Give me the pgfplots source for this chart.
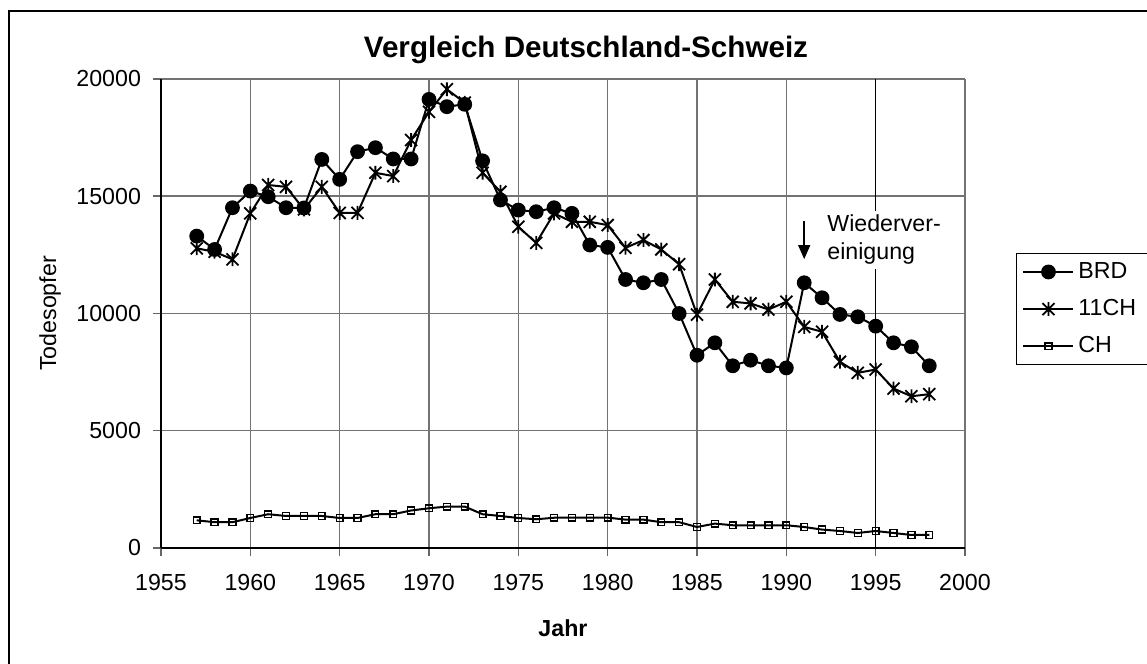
\documentclass[border=0pt]{standalone}
\usepackage{fontspec}
\setmainfont{Liberation Sans}
\usepackage{pgfplots}
\pgfplotsset{compat=1.18}
\usetikzlibrary{arrows.meta}

\pgfdeclareplotmark{xstar}{%
  \pgfpathmoveto{\pgfpoint{-\pgfplotmarksize}{-\pgfplotmarksize}}%
  \pgfpathlineto{\pgfpoint{\pgfplotmarksize}{\pgfplotmarksize}}%
  \pgfpathmoveto{\pgfpoint{-\pgfplotmarksize}{\pgfplotmarksize}}%
  \pgfpathlineto{\pgfpoint{\pgfplotmarksize}{-\pgfplotmarksize}}%
  \pgfpathmoveto{\pgfpoint{0pt}{-1.15\pgfplotmarksize}}%
  \pgfpathlineto{\pgfpoint{0pt}{1.15\pgfplotmarksize}}%
  \pgfusepathqstroke}

\newcommand{\tickfont}{\fontsize{11.6pt}{14.15pt}\selectfont}

\begin{document}
\begin{tikzpicture}
\useasboundingbox (0,0) rectangle (573.5pt,332pt);
\draw[line width=1pt] (4.5pt,-10pt) -- (4.5pt,326.5pt) -- (600pt,326.5pt);
\begin{axis}[
  at={(80.5pt,58pt)}, anchor=south west,
  scale only axis, width=402pt, height=234.5pt,
  xmin=1955, xmax=2000, ymin=0, ymax=20000,
  xtick={1955,1960,...,2000}, ytick={0,5000,...,20000},
  axis x line*=bottom, axis y line*=left,
  axis line style={black, line width=0.75pt},
  tick align=outside, major tick length=4pt,
  tick style={black!60, line width=0.75pt},
  grid=major, major grid style={black!55, line width=0.75pt},
  scaled ticks=false,
  /pgf/number format/1000 sep={},
  /pgf/number format/assume math mode=true,
  ticklabel style={font=\tickfont},
  xticklabel style={yshift=-5.5pt},
  yticklabel style={xshift=-2.5pt},
  title={Vergleich Deutschland-Schweiz},
  title style={at={(0.5286,1.036)}, anchor=center, yshift=0pt, font=\fontsize{14.8pt}{17pt}\selectfont\bfseries},
  xlabel={Jahr},
  xlabel style={at={(0.5,-0.171)}, anchor=center, font=\tickfont\bfseries},
  ylabel={Todesopfer},
  ylabel style={at={(-0.138,0.5)}, anchor=center, font=\tickfont},
  legend style={at={(1.0634,0.629)}, anchor=north west, draw=black, line width=0.5pt,
    font=\tickfont, row sep=5pt, inner xsep=3pt, inner ysep=2.5pt},
  legend cell align=left,
  legend image code/.code={\draw[mark repeat=2, mark phase=2] plot coordinates {(0pt,0pt) (12.5pt,0pt) (25pt,0pt)};},
]
\addplot[black, line width=0.5pt, forget plot] coordinates {(1995,0) (1995,20000)};

\addplot[black, line width=1pt, mark=*, mark size=3.2pt] table[row sep=\\] {
x y\\
1957 13300\\ 1958 12730\\ 1959 14510\\ 1960 15220\\ 1961 14980\\ 1962 14510\\
1963 14500\\ 1964 16570\\ 1965 15720\\ 1966 16900\\ 1967 17070\\ 1968 16590\\
1969 16590\\ 1970 19130\\ 1971 18820\\ 1972 18920\\ 1973 16510\\ 1974 14840\\
1975 14410\\ 1976 14340\\ 1977 14510\\ 1978 14270\\ 1979 12920\\ 1980 12820\\
1981 11450\\ 1982 11310\\ 1983 11450\\ 1984 10000\\ 1985 8220\\ 1986 8750\\
1987 7770\\ 1988 8010\\ 1989 7770\\ 1990 7680\\ 1991 11310\\ 1992 10670\\
1993 9960\\ 1994 9860\\ 1995 9460\\ 1996 8750\\ 1997 8580\\ 1998 7770\\
};

\addplot[black, line width=1pt, mark=xstar, mark size=3pt, mark options={line width=0.9pt}] table[row sep=\\] {
x y\\
1957 12780\\ 1958 12630\\ 1959 12310\\ 1960 14270\\ 1961 15480\\ 1962 15400\\
1963 14440\\ 1964 15400\\ 1965 14290\\ 1966 14290\\ 1967 16000\\ 1968 15860\\
1969 17400\\ 1970 18600\\ 1971 19560\\ 1972 18990\\ 1973 16000\\ 1974 15190\\
1975 13700\\ 1976 13010\\ 1977 14270\\ 1978 13910\\ 1979 13910\\ 1980 13770\\
1981 12800\\ 1982 13130\\ 1983 12730\\ 1984 12100\\ 1985 9950\\ 1986 11450\\
1987 10500\\ 1988 10430\\ 1989 10170\\ 1990 10500\\ 1991 9430\\ 1992 9220\\
1993 7940\\ 1994 7470\\ 1995 7610\\ 1996 6800\\ 1997 6470\\ 1998 6560\\
};

\addplot[black, line width=1pt, mark=square, mark size=1.7pt, mark options={line width=0.7pt}] table[row sep=\\] {
x y\\
1957 1180\\ 1958 1100\\ 1959 1100\\ 1960 1280\\ 1961 1440\\ 1962 1365\\
1963 1365\\ 1964 1365\\ 1965 1280\\ 1966 1280\\ 1967 1440\\ 1968 1440\\
1969 1600\\ 1970 1695\\ 1971 1765\\ 1972 1765\\ 1973 1440\\ 1974 1365\\
1975 1280\\ 1976 1225\\ 1977 1290\\ 1978 1295\\ 1979 1295\\ 1980 1295\\
1981 1210\\ 1982 1210\\ 1983 1100\\ 1984 1100\\ 1985 895\\ 1986 1040\\
1987 970\\ 1988 970\\ 1989 970\\ 1990 970\\ 1991 895\\ 1992 785\\
1993 725\\ 1994 640\\ 1995 725\\ 1996 640\\ 1997 555\\ 1998 555\\
};
\legend{\makebox[45pt][l]{BRD}, \makebox[45pt][l]{11CH}, \makebox[45pt][l]{CH}}

\draw[black, line width=0.75pt, -{Triangle[width=6pt,length=7pt]}] (axis cs:1991,13940) -- (axis cs:1991,12320);
\node[fill=white, align=left, inner sep=2pt, anchor=north west, font=\tickfont] at (axis cs:1992.05,14400) {Wiederver-\\einigung};
\end{axis}
\end{tikzpicture}
\end{document}
